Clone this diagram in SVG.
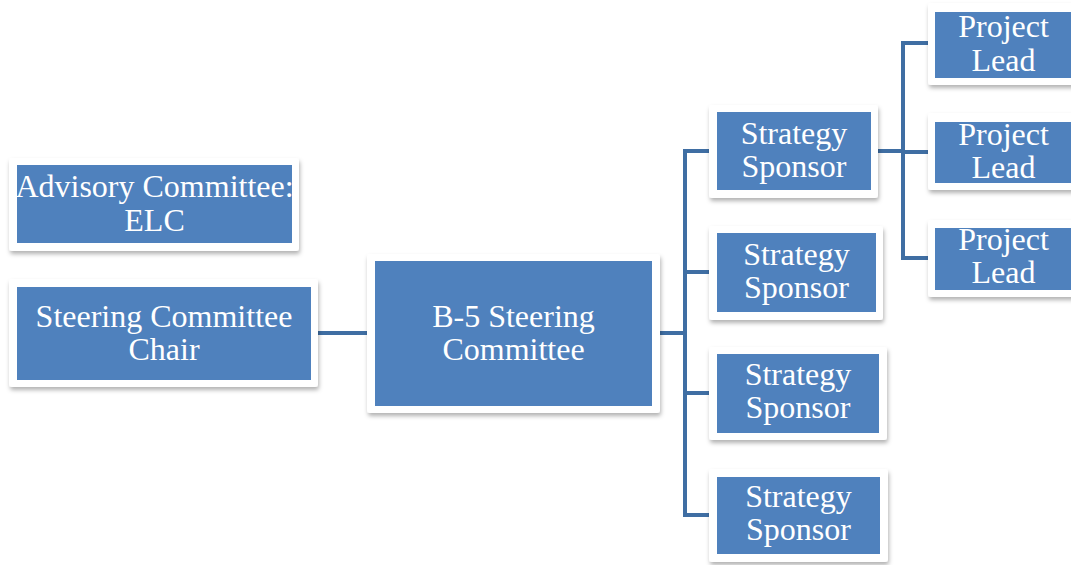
<svg xmlns="http://www.w3.org/2000/svg" width="1071" height="565" viewBox="0 0 1071 565">
<defs>
<filter id="sh" x="-10%" y="-10%" width="130%" height="140%">
<feDropShadow dx="1" dy="3" stdDeviation="2" flood-color="#000" flood-opacity="0.3"/>
</filter>
<style>
.card{fill:#ffffff;filter:url(#sh)}
.box{fill:#4F81BD}
.t{font-family:"Liberation Serif","Times New Roman",serif;font-size:32px;fill:#ffffff;text-anchor:middle}
.c{fill:none;stroke:#3F6EA3;stroke-width:4;stroke-linejoin:miter}
</style>
</defs>
<rect width="1071" height="565" fill="#ffffff"/>
<g id="connectors">
<path class="c" d="M318 333 H367"/>
<path class="c" d="M660 333 H685"/>
<path class="c" d="M709 151 H685 V515 H709"/>
<path class="c" d="M685 272 H709"/>
<path class="c" d="M685 393 H709"/>
<path class="c" d="M878 151 H903"/>
<path class="c" d="M928 43 H903 V258 H928"/>
<path class="c" d="M903 152 H928"/>
</g>
<g id="advisory">
<rect class="card" x="9" y="158" width="290" height="93" rx="3"/>
<rect class="box" x="17" y="165" width="275" height="78"/>
<text class="t" x="154.5" y="197">Advisory Committee:</text>
<text class="t" x="154.5" y="231">ELC</text>
</g>
<g id="chair">
<rect class="card" x="9" y="279" width="309" height="108" rx="3"/>
<rect class="box" x="17" y="287" width="294" height="93"/>
<text class="t" x="164" y="327">Steering Committee</text>
<text class="t" x="164" y="360">Chair</text>
</g>
<g id="b5">
<rect class="card" x="367" y="254" width="293" height="159" rx="3"/>
<rect class="box" x="375" y="261" width="277" height="145"/>
<text class="t" x="513.5" y="327">B-5 Steering</text>
<text class="t" x="513.5" y="360">Committee</text>
</g>
<g id="sponsor1">
<rect class="card" x="709" y="105" width="169" height="93" rx="3"/>
<rect class="box" x="717" y="112" width="154" height="78"/>
<text class="t" x="794" y="144">Strategy</text>
<text class="t" x="794" y="177">Sponsor</text>
</g>
<g id="sponsor2">
<rect class="card" x="709" y="226" width="174" height="94" rx="3"/>
<rect class="box" x="717" y="233" width="159" height="79"/>
<text class="t" x="796.5" y="265">Strategy</text>
<text class="t" x="796.5" y="298">Sponsor</text>
</g>
<g id="sponsor3">
<rect class="card" x="709" y="347" width="178" height="93" rx="3"/>
<rect class="box" x="717" y="354" width="162" height="79"/>
<text class="t" x="798" y="385">Strategy</text>
<text class="t" x="798" y="418">Sponsor</text>
</g>
<g id="sponsor4">
<rect class="card" x="709" y="469" width="179" height="93" rx="3"/>
<rect class="box" x="717" y="477" width="163" height="77"/>
<text class="t" x="798.5" y="507">Strategy</text>
<text class="t" x="798.5" y="540">Sponsor</text>
</g>
<g id="lead1">
<rect class="card" x="928" y="3" width="152" height="82" rx="3"/>
<rect class="box" x="935" y="12" width="137" height="66"/>
<text class="t" x="1003.5" y="37">Project</text>
<text class="t" x="1003.5" y="71">Lead</text>
</g>
<g id="lead2">
<rect class="card" x="928" y="113" width="152" height="77" rx="3"/>
<rect class="box" x="935" y="122" width="137" height="61"/>
<text class="t" x="1003.5" y="145">Project</text>
<text class="t" x="1003.5" y="178">Lead</text>
</g>
<g id="lead3">
<rect class="card" x="928" y="220" width="152" height="77" rx="3"/>
<rect class="box" x="935" y="228" width="137" height="62"/>
<text class="t" x="1003.5" y="250">Project</text>
<text class="t" x="1003.5" y="283">Lead</text>
</g>
</svg>
